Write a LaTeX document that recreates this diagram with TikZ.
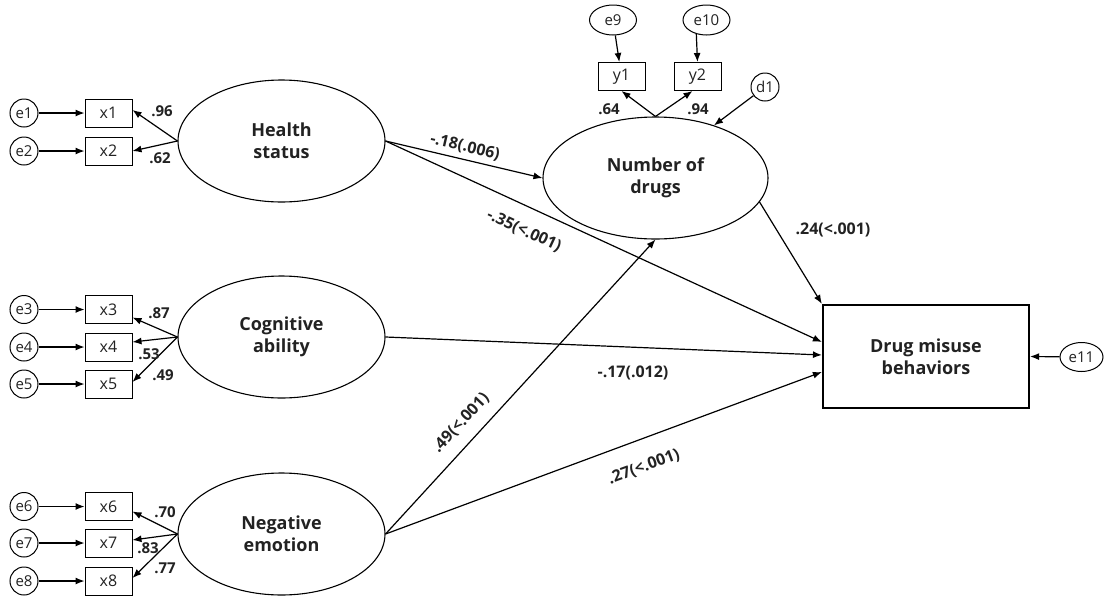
\documentclass[tikz,border=0pt]{standalone}
\usepackage{fontspec}
\setmainfont{Open Sans}
\usetikzlibrary{arrows.meta,shapes.geometric,calc}
\definecolor{txt}{HTML}{222222}
\begin{document}
\begin{tikzpicture}[x=1pt,y=-1pt,
 every node/.style={text=txt},
 lat/.style={ellipse, draw, line width=1.1pt, minimum width=207pt, minimum height=122pt, inner sep=0pt, font=\fontsize{18}{22}\selectfont\bfseries, align=center},
 obs/.style={rectangle, draw, line width=1pt, minimum width=47pt, minimum height=28pt, inner sep=0pt, font=\fontsize{16}{18}\selectfont},
 err/.style={circle, draw, line width=1pt, minimum size=28pt, inner sep=0pt, font=\fontsize{15}{16}\selectfont},
 errel/.style={ellipse, draw, line width=1pt, minimum width=47pt, minimum height=30pt, inner sep=0pt, font=\fontsize{15}{16}\selectfont},
 arr/.style={line width=1.2pt, -{Latex[length=9pt,width=7pt]}},
 ld/.style={font=\fontsize{15}{16}\selectfont\bfseries, inner sep=0pt},
 pl/.style={font=\fontsize{16}{18}\selectfont\bfseries, inner sep=0pt}
]
\useasboundingbox (0,0) rectangle (1104,598);

% latent variables
\node[lat] (hs) at (281.5,141) {Health\\status};
\node[lat] (ca) at (281.5,337) {Cognitive\\ability};
\node[lat] (ne) at (281.5,534) {Negative\\emotion};
\node[lat, minimum width=225pt] (nd) at (655.5,178) {Number of\\drugs};
\node[rectangle, draw, line width=2.2pt, minimum width=206pt, minimum height=103pt, inner sep=0pt,
      font=\fontsize{18}{22}\selectfont\bfseries, align=center] (dmb) at (926,356.5) {Drug misuse\\behaviors};

% indicators
\node[obs] (x1) at (108.5,113) {x1};
\node[obs] (x2) at (108.5,151) {x2};
\node[obs] (x3) at (108.5,309.5) {x3};
\node[obs] (x4) at (108.5,347) {x4};
\node[obs] (x5) at (108.5,384) {x5};
\node[obs] (x6) at (108.5,506.5) {x6};
\node[obs] (x7) at (108.5,543) {x7};
\node[obs] (x8) at (108.5,581) {x8};
\node[obs] (y1) at (621.5,76.5) {y1};
\node[obs] (y2) at (697.5,76.5) {y2};

% errors
\node[err] (e1) at (24,113) {e1};
\node[err] (e2) at (24,151) {e2};
\node[err] (e3) at (24,309.5) {e3};
\node[err] (e4) at (24,347) {e4};
\node[err] (e5) at (24,384) {e5};
\node[err] (e6) at (24,506.5) {e6};
\node[err] (e7) at (24,543) {e7};
\node[err] (e8) at (24,581) {e8};
\node[errel] (e9) at (613,20) {e9};
\node[errel] (e10) at (706.5,20) {e10};
\node[err] (d1) at (765,87) {d1};
\node[errel, minimum width=43pt, minimum height=29pt] (e11) at (1081.5,357) {e11};

% error arrows
\foreach \i in {1,...,8} { \draw[arr] (e\i.east) -- (x\i.west); }
\draw[arr] (e9) -- (y1);
\draw[arr] (e10.234) -- (y2.north);
\draw[arr] (d1) -- (nd.42);
\draw[arr] (e11) -- (dmb.east);

% loadings
\draw[arr] (hs.west) -- ([yshift=3pt]x1.east);
\draw[arr] (hs.west) -- (x2.east);
\draw[arr] (ca.west) -- ([yshift=-8pt]x3.east);
\draw[arr] (ca.west) -- ([yshift=5pt]x4.east);
\draw[arr] (ca.west) -- ([yshift=2pt]x5.east);
\draw[arr] (ne.west) -- ([yshift=-5pt]x6.east);
\draw[arr] (ne.west) -- ([yshift=3pt]x7.east);
\draw[arr] (ne.west) -- ([yshift=3pt]x8.east);
\draw[arr] (nd.north) -- (y1.south);
\draw[arr] (nd.north) -- ([xshift=-5pt]y2.south);

\node[ld] (l96) at (162,111) {.96};
\node[ld] (l62) at (160,158) {.62};
\node[ld] (l87) at (159,313) {.87};
\node[ld] (l53) at (149,354) {.53};
\node[ld] (l49) at (163,375) {.49};
\node[ld] (l70) at (165,512) {.70};
\node[ld] (l83) at (148,548) {.83};
\node[ld] (l77) at (165,568) {.77};
\node[ld] (l64) at (609,109) {.64};
\node[ld] (l94) at (698,109) {.94};

% structural paths
\draw[arr] (hs.east) -- (nd.west);
\draw[arr] (hs.east) -- ([yshift=14.5pt]dmb.west);
\draw[arr] (ca.east) -- ([yshift=1.5pt]dmb.west);
\draw[arr] (ne.east) -- ([yshift=-15.5pt]dmb.west);
\draw[arr] (ne.east) -- (nd.south);
\draw[arr] (nd.-13.5) -- (dmb.north west);

\node[pl, rotate=-13] (p1) at (465,147) {-.18(.006)};
\node[pl, rotate=-25] (p2) at (524,231) {-.35(<.001)};
\node[pl] (p3) at (833,230) {.24(<.001)};
\node[pl] (p4) at (633,373) {-.17(.012)};
\node[pl, rotate=47] (p5) at (461,423) {.49(<.001)};
\node[pl, rotate=20] (p6) at (644,467) {.27(<.001)};
\end{tikzpicture}
\end{document}
